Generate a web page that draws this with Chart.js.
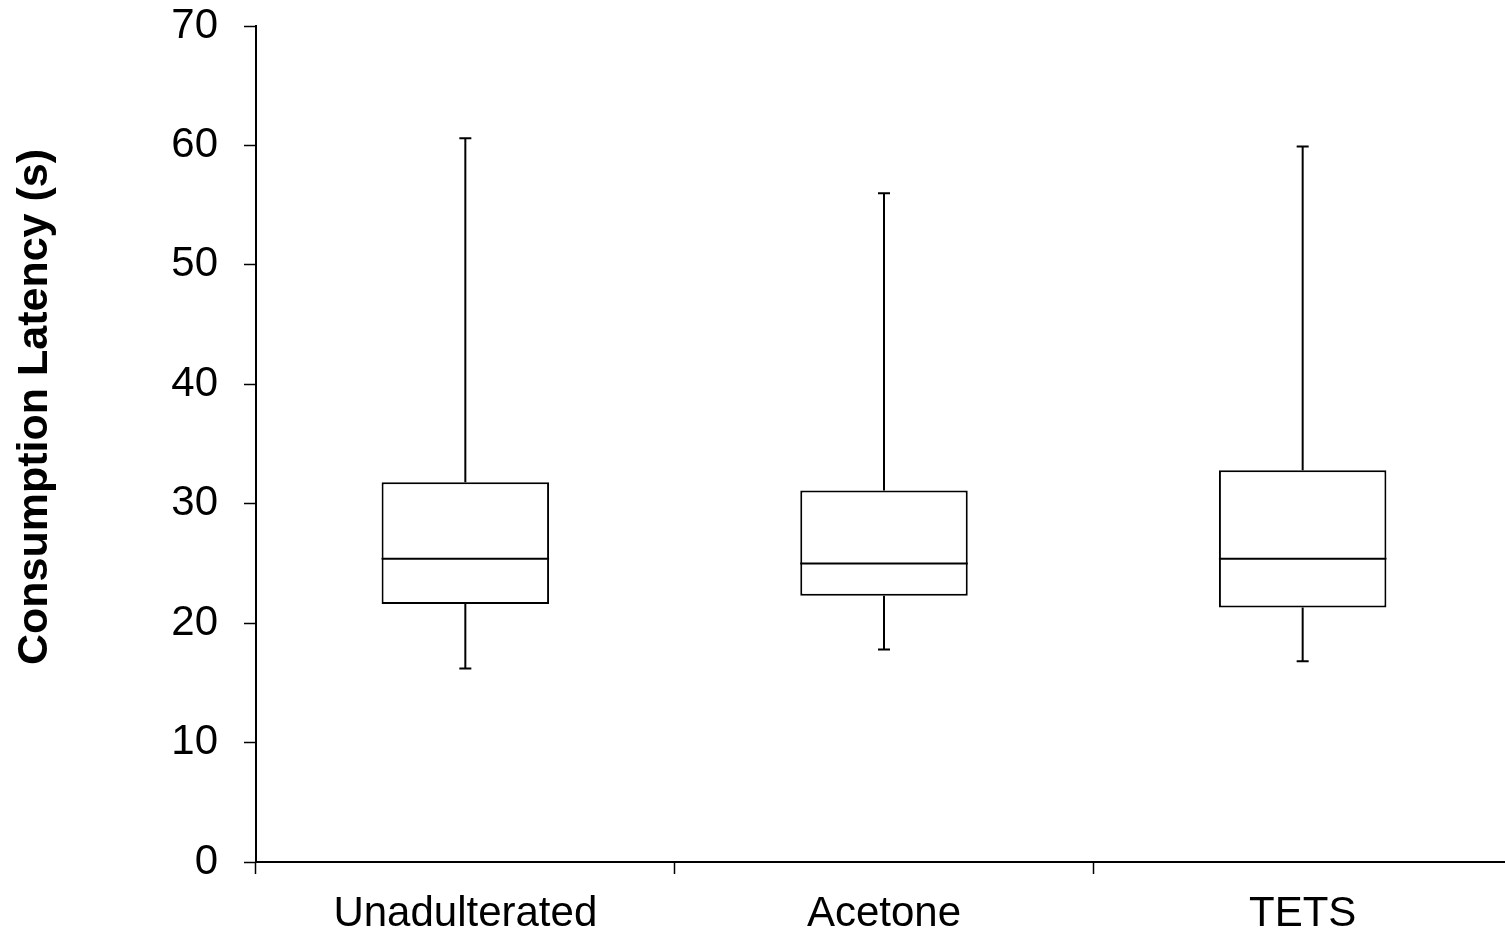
<!DOCTYPE html>
<html>
<head>
<meta charset="utf-8">
<title>Consumption Latency</title>
<script src="https://cdn.jsdelivr.net/npm/chart.js@4/dist/chart.umd.min.js"></script>
<style>
    html, body { margin: 0; padding: 0; background: #fff; overflow: hidden; }
</style>
</head>
<body>
<canvas id="latencyChart" width="1512" height="933"></canvas>
<script>
// Box plot data (seconds)
const categories = ['Unadulterated', 'Acetone', 'TETS'];
const whiskerMin = [16.2, 17.8, 16.8];
const q1 = [21.6, 22.3, 21.3];
const median = [25.4, 25.0, 25.4];
const q3 = [31.8, 31.1, 32.8];
const whiskerMax = [60.6, 56.0, 59.9];
const yTicks = [0, 10, 20, 30, 40, 50, 60, 70];

const yTitle = 'Consumption Latency (s)';
const fontFamily = '"Liberation Sans", Arial, Helvetica, sans-serif';

// Whiskers + median drawn on top of the floating bars
const boxExtras = {
    id: 'boxExtras',
    afterDatasetsDraw(chart) {
        const ctx = chart.ctx;
        const x = chart.scales.x;
        const y = chart.scales.y;
        const meta = chart.getDatasetMeta(0);
        const capHalf = 6;

        ctx.save();
        ctx.strokeStyle = '#000';
        ctx.lineWidth = 2;
        categories.forEach((c, i) => {
            const cx = x.getPixelForValue(i);
            const bar = meta.data[i];
            const half = bar.width / 2;

            ctx.beginPath();
            // median
            ctx.moveTo(cx - half, y.getPixelForValue(median[i]));
            ctx.lineTo(cx + half, y.getPixelForValue(median[i]));
            // upper whisker
            ctx.moveTo(cx, y.getPixelForValue(q3[i]));
            ctx.lineTo(cx, y.getPixelForValue(whiskerMax[i]));
            ctx.moveTo(cx - capHalf, y.getPixelForValue(whiskerMax[i]));
            ctx.lineTo(cx + capHalf, y.getPixelForValue(whiskerMax[i]));
            // lower whisker
            ctx.moveTo(cx, y.getPixelForValue(q1[i]));
            ctx.lineTo(cx, y.getPixelForValue(whiskerMin[i]));
            ctx.moveTo(cx - capHalf, y.getPixelForValue(whiskerMin[i]));
            ctx.lineTo(cx + capHalf, y.getPixelForValue(whiskerMin[i]));
            ctx.stroke();
        });
        ctx.restore();
    }
};

// Rotated y axis title, sitting a bit above the plot centre like the original
const yAxisTitle = {
    id: 'yAxisTitle',
    afterDraw(chart) {
        const ctx = chart.ctx;
        ctx.save();
        ctx.translate(35, 407);
        ctx.rotate(-Math.PI / 2);
        ctx.font = 'bold 43px ' + fontFamily;
        ctx.fillStyle = '#000';
        ctx.textAlign = 'center';
        ctx.textBaseline = 'middle';
        ctx.fillText(yTitle, 0, 0);
        ctx.restore();
    }
};

new Chart(document.getElementById('latencyChart'), {
    type: 'bar',
    data: {
        labels: categories,
        datasets: [{
            data: categories.map((c, i) => [q1[i], q3[i]]),
            backgroundColor: '#fff',
            borderColor: '#000',
            borderWidth: 2,
            borderSkipped: false,
            categoryPercentage: 1,
            barPercentage: 0.4
        }]
    },
    options: {
        responsive: false,
        animation: false,
        events: [],
        layout: {
            padding: { top: 26, right: 0, bottom: 0, left: 0 }
        },
        plugins: {
            legend: { display: false },
            tooltip: { enabled: false }
        },
        scales: {
            x: {
                afterFit: function(scale) {
                    scale.height = 71;
                    scale.paddingLeft = 0;
                    scale.paddingRight = 0;
                },
                grid: {
                    offset: true,
                    drawOnChartArea: false,
                    drawTicks: true,
                    tickLength: 12,
                    tickWidth: 1.5,
                    color: '#000'
                },
                border: { display: true, color: '#000', width: 2 },
                ticks: {
                    color: '#000',
                    padding: 15,
                    font: { family: fontFamily, size: 42 }
                }
            },
            y: {
                min: 0,
                max: 70,
                afterFit: function(scale) {
                    scale.width = 256;
                    scale.paddingTop = 0;
                    scale.paddingBottom = 0;
                },
                afterBuildTicks: function(scale) {
                    scale.ticks = yTicks.map(v => ({ value: v }));
                },
                grid: {
                    drawOnChartArea: false,
                    drawTicks: true,
                    tickLength: 12,
                    tickWidth: 1.5,
                    color: '#000'
                },
                border: { display: true, color: '#000', width: 2 },
                ticks: {
                    color: '#000',
                    padding: 26,
                    font: { family: fontFamily, size: 42 }
                }
            }
        }
    },
    plugins: [boxExtras, yAxisTitle]
});
</script>
</body>
</html>
